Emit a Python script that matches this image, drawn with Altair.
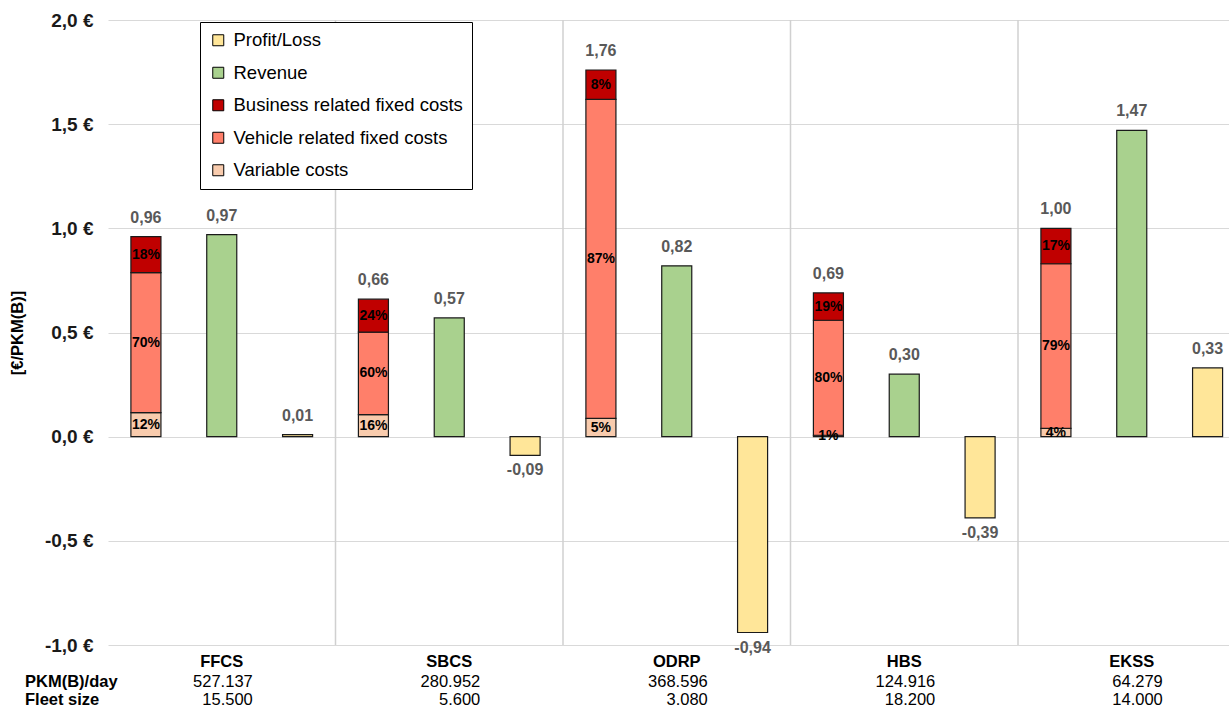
import altair as alt
import pandas as pd

# --- data -------------------------------------------------------------
systems = ["FFCS", "SBCS", "ODRP", "HBS", "EKSS"]
cost_total = [0.96, 0.66, 1.76, 0.69, 1.00]          # €/PKM(B)
share_variable = [12, 16, 5, 1, 4]                     # % of total cost
share_vehicle = [70, 60, 87, 80, 79]
share_business = [18, 24, 8, 19, 17]
revenue = [0.97, 0.57, 0.82, 0.30, 1.47]
profit = [0.01, -0.09, -0.94, -0.39, 0.33]
pkm_per_day = ["527.137", "280.952", "368.596", "124.916", "64.279"]
fleet_size = ["15.500", "5.600", "3.080", "18.200", "14.000"]

series = ["Profit/Loss", "Revenue", "Business related fixed costs",
          "Vehicle related fixed costs", "Variable costs"]
colors = ["#FFE699", "#A9D18E", "#C00000", "#FF7F6A", "#F8CBAD"]

# --- layout -----------------------------------------------------------
PLOT_W, PLOT_H = 1121, 625
GROUP_PX = 227.5                 # pixel width of one system group
X_MAX = PLOT_W / GROUP_PX
OFFSET = 1 / 3                   # bar offset from group centre (in groups)
HALF = 0.066                     # half bar width (in groups)
FONT = "Liberation Sans"


def euro(v):
    return f"{v:.2f}".replace(".", ",")


bars, values, shares, groups = [], [], [], []
for i, name in enumerate(systems):
    c = i + 0.5
    xc = c - OFFSET
    t = cost_total[i]
    lo = 0.0
    for lab, pct in [("Variable costs", share_variable[i]),
                     ("Vehicle related fixed costs", share_vehicle[i]),
                     ("Business related fixed costs", share_business[i])]:
        hi = lo + t * pct / 100
        bars.append(dict(series=lab, x0=xc - HALF, x1=xc + HALF, y0=lo, y1=hi))
        shares.append(dict(x=xc, y=(lo + hi) / 2, text=f"{pct}%"))
        lo = hi
    values.append(dict(x=xc, y=t, text=euro(t)))
    bars.append(dict(series="Revenue", x0=c - HALF, x1=c + HALF, y0=0.0, y1=revenue[i]))
    values.append(dict(x=c, y=revenue[i], text=euro(revenue[i])))
    xp = c + OFFSET
    bars.append(dict(series="Profit/Loss", x0=xp - HALF, x1=xp + HALF, y0=0.0, y1=profit[i]))
    values.append(dict(x=xp, y=profit[i], text=euro(profit[i])))
    groups.append(dict(x=c, name=name, pkm=pkm_per_day[i], fleet=fleet_size[i]))

bars = pd.DataFrame(bars)
values = pd.DataFrame(values)
shares = pd.DataFrame(shares)
groups = pd.DataFrame(groups)
separators = pd.DataFrame({"x": list(range(1, len(systems)))})
row_labels = pd.DataFrame({"text": ["PKM(B)/day", "Fleet size"], "py": [662, 680]})

xs = alt.Scale(domain=[0, X_MAX], nice=False, zero=False)
ys = alt.Scale(domain=[-1.0, 2.0], nice=False, zero=False)

yaxis = alt.Axis(
    values=[-1.0, -0.5, 0.0, 0.5, 1.0, 1.5, 2.0],
    labelExpr="replace(replace(format(datum.value, '.1f'), '.', ','), '\u2212', '-') + ' €'",
    title="[€/PKM(B)]", titleAngle=270, titleX=-91, titleY=PLOT_H / 2,
    titleAlign="center", titleBaseline="middle",
    titleFont=FONT, titleFontSize=16.5, titleFontWeight="bold", titleColor="#000000",
    labelFont=FONT, labelFontSize=19, labelFontWeight="bold", labelColor="#1a1a1a",
    labelPadding=15, domain=False, ticks=False,
    grid=True, gridColor="#d9d9d9", gridWidth=1,
)

sep = alt.Chart(separators).mark_rule(color="#d0d0d0", strokeWidth=1.5).encode(
    x=alt.X("x:Q", scale=xs, axis=None),
    y=alt.datum(2.0, scale=ys, axis=yaxis),
    y2=alt.datum(-1.0),
)

bar = alt.Chart(bars).mark_bar(stroke="#1a1a1a", strokeWidth=1.2).encode(
    x=alt.X("x0:Q", scale=xs, axis=None),
    x2="x1:Q",
    y=alt.Y("y0:Q", scale=ys, axis=yaxis),
    y2="y1:Q",
    color=alt.Color("series:N", scale=alt.Scale(domain=series, range=colors),
                    legend=alt.Legend(title=None, orient="none", legendX=92, legendY=2)),
)

val_pos = alt.Chart(values).transform_filter("datum.y >= 0").mark_text(
    font=FONT, fontSize=16, fontWeight="bold", color="#595959", baseline="alphabetic", dy=-14
).encode(x=alt.X("x:Q", scale=xs), y=alt.Y("y:Q", scale=ys), text="text:N")
val_neg = alt.Chart(values).transform_filter("datum.y < 0").mark_text(
    font=FONT, fontSize=16, fontWeight="bold", color="#595959", baseline="alphabetic", dy=20
).encode(x=alt.X("x:Q", scale=xs), y=alt.Y("y:Q", scale=ys), text="text:N")

pct = alt.Chart(shares).mark_text(
    font=FONT, fontSize=14, fontWeight="bold", color="#000000", baseline="middle"
).encode(x=alt.X("x:Q", scale=xs), y=alt.Y("y:Q", scale=ys), text="text:N")

gname = alt.Chart(groups).mark_text(
    font=FONT, fontSize=16.5, fontWeight="bold", color="#000000", baseline="middle"
).encode(x=alt.X("x:Q", scale=xs), y=alt.value(642), text="name:N")
gpkm = alt.Chart(groups).mark_text(
    font=FONT, fontSize=16.5, color="#000000", baseline="middle", align="right", dx=31
).encode(x=alt.X("x:Q", scale=xs), y=alt.value(662), text="pkm:N")
gfleet = alt.Chart(groups).mark_text(
    font=FONT, fontSize=16.5, color="#000000", baseline="middle", align="right", dx=31
).encode(x=alt.X("x:Q", scale=xs), y=alt.value(680), text="fleet:N")
rows = alt.Chart(row_labels).mark_text(
    font=FONT, fontSize=16.5, fontWeight="bold", color="#000000", baseline="middle", align="left"
).encode(x=alt.value(-83), y=alt.Y("py:Q", scale=None), text="text:N")

chart = alt.layer(sep, bar, val_pos, val_neg, pct, gname, gpkm, gfleet, rows).properties(
    width=PLOT_W, height=PLOT_H,
    autosize=alt.AutoSizeParams(type="none"),
    padding={"left": 108, "top": 20, "right": 0, "bottom": 64},
).configure_view(stroke=None).configure_legend(
    strokeColor="#000000", fillColor="#ffffff", padding=9,
    symbolType="square", symbolSize=121, symbolStrokeColor="#000000",
    symbolStrokeWidth=1, symbolOpacity=1,
    labelFont=FONT, labelFontSize=18.5, labelColor="#000000", labelOffset=6,
    rowPadding=13.5, labelLimit=400,
)

chart.save("out.html", embed_options={"renderer": "svg", "actions": False})
